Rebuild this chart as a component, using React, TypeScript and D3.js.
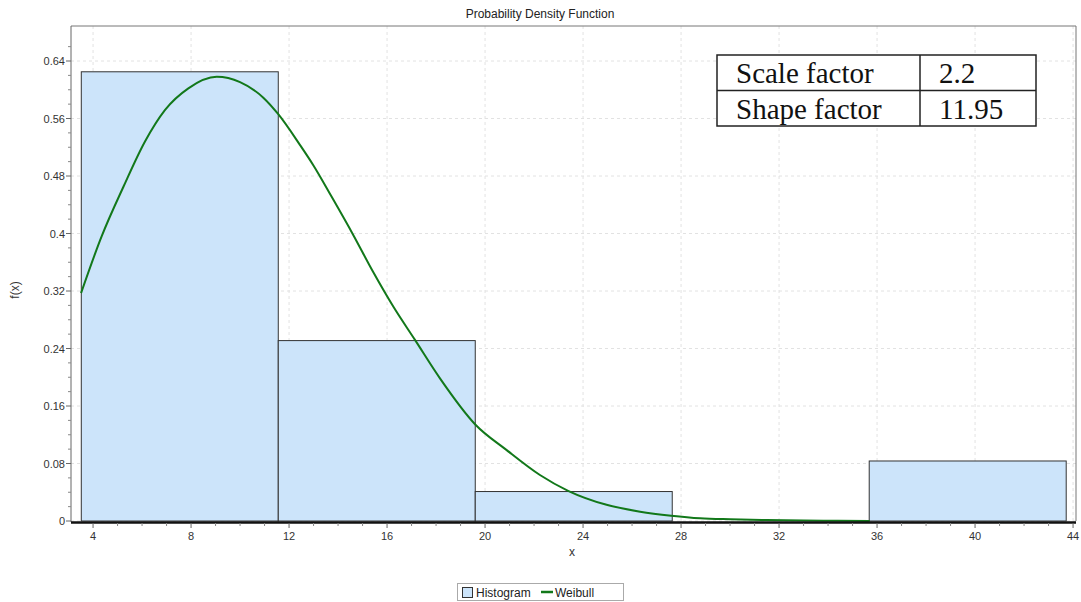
import React from 'react';
import * as d3 from 'd3';

// histogram bins (edges in x) and their heights
const binEdges = [3.52, 11.56, 19.6, 27.64, 35.68, 43.72];
const binHeights = [0.625, 0.251, 0.041, 0, 0.0835];

// fitted Weibull curve
const curveX = [3.51, 4.35, 5.24, 6.12, 6.94, 7.89, 9.05, 10.0, 10.95, 11.56, 12.45, 12.99, 13.74, 14.62, 15.44, 16.26, 17.14, 18.16, 19.61, 20.87, 22.24, 23.39, 24.96, 26.33, 27.6, 28.78, 30.0, 31.5, 33.0, 34.4, 35.7];
const curveY = [0.317, 0.396, 0.465, 0.528, 0.572, 0.602, 0.618, 0.6105, 0.589, 0.566, 0.523, 0.495, 0.451, 0.398, 0.346, 0.298, 0.252, 0.1985, 0.134, 0.099, 0.064, 0.042, 0.0225, 0.013, 0.0074, 0.0038, 0.0024, 0.0014, 0.0007, 0.0003, 0.0];

const xTicks = [4, 8, 12, 16, 20, 24, 28, 32, 36, 40, 44];
const yTicks = [0, 0.08, 0.16, 0.24, 0.32, 0.4, 0.48, 0.56, 0.64];
const yTickLabels = ['0', '0.08', '0.16', '0.24', '0.32', '0.4', '0.48', '0.56', '0.64'];

const tableRows = [
  ['Scale factor', '2.2'],
  ['Shape factor', '11.95'],
];

const W = 1081;
const H = 602;
const left = 71, right = 1076, top = 26, bottom = 521;

export default function App() {
  const x = d3.scaleLinear().domain([3.1, 44.12]).range([left, right]);
  const y = d3.scaleLinear().domain([0, 0.6887]).range([bottom, top]);

  const xMinor = d3.range(4, 45, 1).filter(v => v % 4 !== 0);
  const yMinor = d3.range(0, 0.68, 0.02).filter((v, i) => i % 4 !== 0);

  const line = d3.line<number>()
    .x((d, i) => x(curveX[i]))
    .y(d => y(d))
    .curve(d3.curveMonotoneX);

  const font = 'Liberation Sans, Arial, sans-serif';
  const tabX = 717, tabY = 55, tabW = 319, rowH = 35.5, colX = 920;

  return (
    <svg width={W} height={H} style={{ position: 'absolute', left: 0, top: 0, background: '#fff' }}>
      <text x={540} y={18} textAnchor="middle" fontFamily={font} fontSize={12} fill="#222">Probability Density Function</text>

      {/* grid */}
      <g stroke="#e2e2e2" strokeDasharray="3,3" strokeWidth={1}>
        {xTicks.map(t => <line key={'gx' + t} x1={x(t)} x2={x(t)} y1={top} y2={bottom} />)}
        {yTicks.map(t => <line key={'gy' + t} x1={left} x2={right} y1={y(t)} y2={y(t)} />)}
      </g>

      {/* histogram */}
      {binHeights.map((h, i) => h > 0 ? (
        <rect key={'b' + i} x={x(binEdges[i])} y={y(h)} width={x(binEdges[i + 1]) - x(binEdges[i])}
          height={y(0) - y(h)} fill="#cce4fa" stroke="#333" strokeWidth={1} />
      ) : null)}

      {/* weibull */}
      <path d={line(curveY) || ''} fill="none" stroke="#12781a" strokeWidth={2} />

      {/* frame */}
      <line x1={left} x2={right} y1={top} y2={top} stroke="#777" />
      <line x1={right} x2={right} y1={top} y2={bottom} stroke="#777" />
      <line x1={left} x2={left} y1={top} y2={bottom + 1} stroke="#666" />
      <line x1={left} x2={right} y1={bottom + 1.5} y2={bottom + 1.5} stroke="#111" strokeWidth={2.5} />

      {/* y axis */}
      {yTicks.map((t, i) => (
        <g key={'yt' + t}>
          <line x1={left - 5} x2={left} y1={y(t)} y2={y(t)} stroke="#666" />
          <text x={left - 6} y={y(t) + 4} textAnchor="end" fontFamily={font} fontSize={11} fill="#333">{yTickLabels[i]}</text>
        </g>
      ))}
      {yMinor.map(t => <line key={'ym' + t} x1={left - 3} x2={left} y1={y(t)} y2={y(t)} stroke="#888" />)}
      <text transform={`translate(19,${290}) rotate(-90)`} textAnchor="middle" fontFamily={font} fontSize={12} fill="#333">f(x)</text>

      {/* x axis */}
      {xTicks.map(t => (
        <g key={'xt' + t}>
          <line x1={x(t)} x2={x(t)} y1={bottom + 2} y2={bottom + 7} stroke="#666" />
          <text x={x(t)} y={bottom + 19} textAnchor="middle" fontFamily={font} fontSize={11} fill="#333">{t}</text>
        </g>
      ))}
      {xMinor.map(t => <line key={'xm' + t} x1={x(t)} x2={x(t)} y1={bottom + 2} y2={bottom + 5} stroke="#888" />)}
      <text x={572} y={556} textAnchor="middle" fontFamily={font} fontSize={12} fill="#333">x</text>

      {/* parameter table */}
      <g fontFamily="Liberation Serif, Times New Roman, serif" fontSize={29} fill="#111">
        <rect x={tabX} y={tabY} width={tabW} height={rowH * 2} fill="#fff" stroke="#222" strokeWidth={1.5} />
        <line x1={tabX} x2={tabX + tabW} y1={tabY + rowH} y2={tabY + rowH} stroke="#222" strokeWidth={1.5} />
        <line x1={colX} x2={colX} y1={tabY} y2={tabY + rowH * 2} stroke="#222" strokeWidth={1.5} />
        {tableRows.map((r, i) => (
          <g key={'tr' + i}>
            <text x={736} y={tabY + rowH * i + 28}>{r[0]}</text>
            <text x={939} y={tabY + rowH * i + 28}>{r[1]}</text>
          </g>
        ))}
      </g>

      {/* legend */}
      <rect x={457.5} y={583.5} width={166} height={17} fill="#fff" stroke="#aaa" />
      <rect x={462.5} y={587.5} width={10} height={10} fill="#cce4fa" stroke="#333" />
      <text x={476} y={596.5} fontFamily={font} fontSize={12} fill="#222">Histogram</text>
      <line x1={541} x2={553} y1={592} y2={592} stroke="#12781a" strokeWidth={2.5} />
      <text x={555} y={596.5} fontFamily={font} fontSize={12} fill="#222">Weibull</text>
    </svg>
  );
}
